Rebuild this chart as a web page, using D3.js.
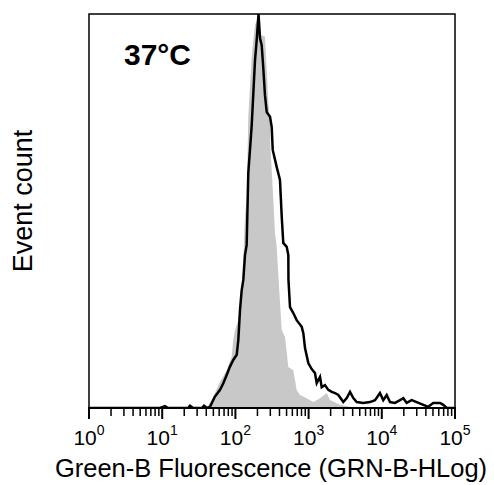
<!DOCTYPE html>
<html lang="en">
<head>
<meta charset="UTF-8">
<title>37°C Green-B Fluorescence histogram</title>
<script src="https://d3js.org/d3.v7.min.js"></script>
<style>
  body { margin: 0; background: #fff; }
  text { font-family: Arial, "Liberation Sans", sans-serif; fill: #000; }
</style>
</head>
<body>
<script>
// histogram data: x in log10(fluorescence), count scaled so the black peak = 100
const controlLog = [0, 1.585, 1.626, 1.694, 1.79, 1.881, 1.949, 1.971, 1.995, 2.04, 2.063, 2.086, 2.108,
  2.131, 2.154, 2.176, 2.199, 2.223, 2.245, 2.268, 2.295, 2.316, 2.35, 2.404, 2.428, 2.45, 2.473, 2.48,
  2.496, 2.518, 2.541, 2.564, 2.586, 2.633, 2.678, 2.723, 2.791, 2.837, 2.882, 2.973, 3.064, 3.156,
  3.247, 3.292, 3.429, 3.566, 3.702, 5];
const controlCount = [0, 0, 0.5, 2.8, 6.6, 9.6, 13, 17.3, 19.8, 22.3, 26.6, 29.9, 37.6,
  48.9, 52.8, 73.9, 81.5, 89.1, 93.4, 97.2, 98.5, 96, 94.7, 94.2, 85.8, 77.4, 73.1, 65.5,
  60.4, 52.8, 44.4, 40.9, 33.8, 19.8, 18, 10.4, 9.6, 4.6, 3.3, 2.5, 1.5, 2.5,
  3.8, 2, 0.8, 0.3, 0, 0];

const sampleLog = [0, 0.97, 1.038, 1.079, 1.352, 1.38, 1.421, 1.544, 1.571, 1.612, 1.653, 1.721, 1.79,
  1.835, 1.881, 1.926, 1.971, 2.018, 2.04, 2.063, 2.086, 2.108, 2.131, 2.154, 2.176, 2.199, 2.223,
  2.245, 2.268, 2.291, 2.316, 2.336, 2.359, 2.381, 2.404, 2.428, 2.473, 2.496, 2.51, 2.564, 2.609,
  2.633, 2.654, 2.701, 2.723, 2.725, 2.746, 2.791, 2.837, 2.906, 2.928, 2.951, 2.996, 3.042, 3.087,
  3.111, 3.156, 3.179, 3.224, 3.269, 3.316, 3.361, 3.406, 3.474, 3.521, 3.566, 3.611, 3.657, 3.747,
  3.839, 3.907, 3.975, 4.02, 4.067, 4.112, 4.18, 4.249, 4.294, 4.34, 4.408, 4.477, 4.567, 4.635,
  4.704, 4.795, 4.84, 4.887, 5];
const sampleCount = [0, 0, 0.5, 0, 0, 0.6, 0, 0, 0.6, 0, 0.3, 2.9, 4.6,
  6.3, 8.4, 10.5, 12.2, 13.5, 17.3, 24.9, 29.9, 32.5, 38.8, 41.4, 59.6, 65.5, 71.8,
  79.9, 88.3, 93.4, 100, 93.9, 92.1, 86.3, 79.4, 75.1, 73.9, 71.3, 65.5, 61.2, 57.9,
  48.5, 41.9, 40.9, 38.8, 32.5, 25.6, 24.1, 22.3, 20.6, 19, 15.2, 11.4, 9.9, 8.9,
  6.3, 7.9, 5.3, 5.8, 4.6, 4.1, 3.8, 3.3, 1.5, 2.5, 4.1, 2.5, 1.5, 1.3,
  1.5, 2, 3.8, 2, 3.3, 1.5, 1.3, 2, 2.5, 1.3, 2, 1.5, 0.8, 0.3,
  1.3, 1.3, 0.8, 0, 0];

const decades = [0, 1, 2, 3, 4, 5];
const chartTitle = "37°C";
const xTitle = "Green-B Fluorescence (GRN-B-HLog)";
const yTitle = "Event count";

const width = 494, height = 485;
const margin = { top: 14, right: 39, bottom: 77, left: 89 };

const svg = d3.select("body").append("svg")
  .attr("width", width)
  .attr("height", height);

const x = d3.scaleLog()
  .domain([1, 1e5])
  .range([margin.left, width - margin.right]);

const y = d3.scaleLinear()
  .domain([0, 100])
  .range([height - margin.bottom, margin.top]);

const control = controlLog.map((d, i) => ({ v: Math.pow(10, d), c: controlCount[i] }));
const sample = sampleLog.map((d, i) => ({ v: Math.pow(10, d), c: sampleCount[i] }));

svg.append("clipPath").attr("id", "plot")
  .append("rect")
  .attr("x", margin.left).attr("y", margin.top)
  .attr("width", width - margin.left - margin.right)
  .attr("height", height - margin.top - margin.bottom);

const g = svg.append("g").attr("clip-path", "url(#plot)");

g.append("path")
  .datum(control)
  .attr("fill", "#c8c8c8")
  .attr("d", d3.area().x(d => x(d.v)).y0(y(0)).y1(d => y(d.c)));

g.append("path")
  .datum(sample)
  .attr("fill", "none")
  .attr("stroke", "#000")
  .attr("stroke-width", 2.5)
  .attr("stroke-linejoin", "miter")
  .attr("d", d3.line().x(d => x(d.v)).y(d => y(d.c)));

// frame
svg.append("rect")
  .attr("x", margin.left).attr("y", margin.top)
  .attr("width", width - margin.left - margin.right)
  .attr("height", height - margin.top - margin.bottom)
  .attr("fill", "none")
  .attr("stroke", "#000")
  .attr("stroke-width", 1.5);

// ticks, major + minor
const bottom = height - margin.bottom;
const minor = [];
decades.slice(0, -1).forEach(d => {
  for (let k = 2; k <= 9; k++) minor.push(k * Math.pow(10, d));
});

svg.append("g").selectAll("line.minor")
  .data(minor)
  .enter().append("line")
  .attr("x1", d => x(d)).attr("x2", d => x(d))
  .attr("y1", bottom).attr("y2", bottom + 8)
  .attr("stroke", "#000").attr("stroke-width", 1.5);

svg.append("g").selectAll("line.major")
  .data(decades)
  .enter().append("line")
  .attr("x1", d => x(Math.pow(10, d))).attr("x2", d => x(Math.pow(10, d)))
  .attr("y1", bottom).attr("y2", bottom + 11)
  .attr("stroke", "#000").attr("stroke-width", 2);

svg.append("line")
  .attr("x1", margin.left - 1).attr("x2", width - margin.right + 1)
  .attr("y1", bottom).attr("y2", bottom)
  .attr("stroke", "#000").attr("stroke-width", 2);

const labels = svg.append("g").selectAll("text")
  .data(decades)
  .enter().append("text")
  .attr("x", d => x(Math.pow(10, d)))
  .attr("y", 445)
  .attr("text-anchor", "middle")
  .attr("font-size", 21);
labels.append("tspan").text("10");
labels.append("tspan").attr("dy", -10).attr("font-size", 14).text(d => d);

svg.append("text")
  .attr("x", 271)
  .attr("y", 477)
  .attr("text-anchor", "middle")
  .attr("font-size", 25.5)
  .text(xTitle);

svg.append("text")
  .attr("transform", "translate(32,201) rotate(-90)")
  .attr("text-anchor", "middle")
  .attr("font-size", 27)
  .text(yTitle);

svg.append("text")
  .attr("x", 124)
  .attr("y", 65)
  .attr("font-size", 30)
  .attr("font-weight", "bold")
  .text(chartTitle);
</script>
</body>
</html>
